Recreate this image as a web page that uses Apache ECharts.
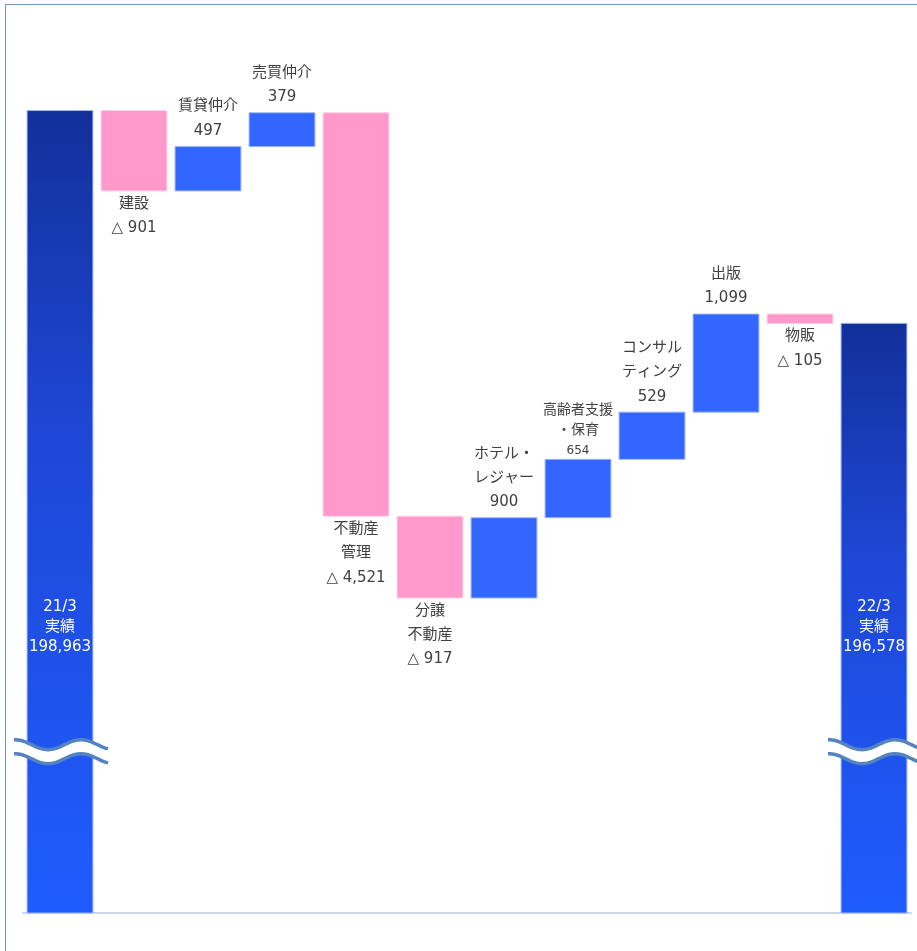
<!DOCTYPE html>
<html>
<head>
<meta charset="utf-8">
<script src="https://cdn.jsdelivr.net/npm/echarts@6/dist/echarts.min.js"></script>
<style>
  html, body { margin: 0; padding: 0; background: #fff; }
  #frame { position: absolute; left: 5px; top: 4px; width: 940px; height: 980px; border-left: 1px solid #7396c8; border-top: 1px solid #7396c8; }
  #chart { position: absolute; left: 0; top: 0; width: 917px; height: 951px; }
</style>
</head>
<body>
<div id="frame"></div>
<div id="chart"></div>
<script>
// 売上高増減 (百万円)
const categories = ["21/3実績", "建設", "賃貸仲介", "売買仲介", "不動産管理", "分譲不動産",
  "ホテル・レジャー", "高齢者支援・保育", "コンサルティング", "出版", "物販", "22/3実績"]
const labelNames = ["21/3\n実績", "建設", "賃貸仲介", "売買仲介", "不動産\n管理", "分譲\n不動産",
  "ホテル・\nレジャー", "高齢者支援\n・保育", "コンサル\nティング", "出版", "物販", "22/3\n実績"]
const startTotal = 198963
const endTotal = 196578
const deltas = [-901, 497, 379, -4521, -917, 900, 654, 529, 1099, -105]

// 省略した軸の範囲
const yMin = 189970
const yMax = 200000
const breakValue = 191800
const totalLabelValue = 193175

const smallLabel = new Set([7])

const fmt = (v) => v.toLocaleString("en-US")

// 各棒の [index, low, high, kind]
const bars = []
bars.push([0, yMin, startTotal, "total"])
let level = startTotal
deltas.forEach((d, k) => {
  const next = level + d
  bars.push([k + 1, Math.min(level, next), Math.max(level, next), d < 0 ? "down" : "up"])
  level = next
})
bars.push([categories.length - 1, yMin, endTotal, "total"])

const textColor = "#404040"
const font = '"DejaVu Sans", "Noto Sans CJK JP", sans-serif'

function waveEdge(cx, y0, offset) {
  const pts = []
  for (let x = -46; x <= 48; x += 2) {
    pts.push([cx + x, y0 + offset - 5 + 5 * Math.cos((2 * Math.PI * (x + 12)) / 66)])
  }
  return pts
}

function renderItem(params, api) {
  const i = api.value(0)
  const lo = api.value(1)
  const hi = api.value(2)
  const kind = bars[params.dataIndex][3]
  const band = api.size([1, 0])[0]
  const w = band * 0.89
  const top = api.coord([i, hi])
  const bot = api.coord([i, lo])
  const cx = top[0]
  const children = []

  let fill, stroke
  if (kind === "total") {
    fill = new echarts.graphic.LinearGradient(0, 0, 0, 1, [
      { offset: 0, color: "#12309a" },
      { offset: 0.4, color: "#1e47d6" },
      { offset: 1, color: "#1f5cff" },
    ])
    stroke = "#9fb6f2"
  } else if (kind === "up") {
    fill = "#3366ff"
    stroke = "#9fb6f2"
  } else {
    fill = "#ff99cc"
    stroke = "#ffd0e6"
  }
  children.push({
    type: "rect",
    shape: { x: cx - w / 2, y: top[1], width: w, height: bot[1] - top[1] },
    style: { fill: fill, stroke: stroke, lineWidth: 1 },
  })

  if (kind === "total") {
    const value = i === 0 ? startTotal : endTotal
    const lp = api.coord([i, totalLabelValue])
    children.push({
      type: "text",
      x: cx,
      y: lp[1],
      style: {
        text: labelNames[i] + "\n" + fmt(value),
        fill: "#ffffff",
        font: "15px " + font,
        lineHeight: 20,
        align: "center",
        verticalAlign: "middle",
      },
    })
    // 軸の省略記号
    const y0 = api.coord([i, breakValue])[1]
    const topEdge = waveEdge(cx, y0, 0)
    const botEdge = waveEdge(cx, y0, 14)
    children.push({
      type: "polygon",
      shape: { points: topEdge.concat(botEdge.slice().reverse()) },
      style: { fill: "#ffffff" },
    })
    children.push({ type: "polyline", shape: { points: topEdge }, style: { stroke: "#5384c0", lineWidth: 3.5, fill: null } })
    children.push({ type: "polyline", shape: { points: botEdge }, style: { stroke: "#5384c0", lineWidth: 3.5, fill: null } })
  } else {
    const d = deltas[i - 1]
    const vText = d < 0 ? "△ " + fmt(-d) : fmt(d)
    const small = smallLabel.has(i)
    const names = labelNames[i].split("\n").map((s) => "{n|" + s + "}").join("\n")
    const txt = names + "\n{v|" + vText + "}"
    const rich = small
      ? { n: { fontSize: 14, lineHeight: 20, fontFamily: font, fill: textColor }, v: { fontSize: 12, lineHeight: 21, fontFamily: font, fill: textColor } }
      : { n: { fontSize: 15, lineHeight: 24, fontFamily: font, fill: textColor }, v: { fontSize: 15, lineHeight: 25, fontFamily: font, fill: textColor } }
    let y = d < 0 ? bot[1] + 1 : top[1] - 3
    if (small) y = top[1] + 2
    children.push({
      type: "text",
      x: cx,
      y: y,
      style: {
        text: txt,
        rich: rich,
        fill: textColor,
        align: "center",
        verticalAlign: d < 0 ? "top" : "bottom",
      },
    })
  }
  return { type: "group", children: children }
}

const chart = echarts.init(document.getElementById("chart"))
chart.setOption({
  animation: false,
  grid: { left: 23, right: 6, top: 18, bottom: 38 },
  xAxis: {
    type: "category",
    data: categories,
    axisLine: { lineStyle: { color: "#cbd6ea", width: 2 } },
    axisTick: { show: false },
    axisLabel: { show: false },
  },
  yAxis: {
    type: "value",
    min: yMin,
    max: yMax,
    show: false,
    splitLine: { show: false },
  },
  series: [
    {
      type: "custom",
      renderItem: renderItem,
      data: bars.map((b) => [b[0], b[1], b[2]]),
      encode: { x: 0, y: [1, 2] },
    },
  ],
})
</script>
</body>
</html>
